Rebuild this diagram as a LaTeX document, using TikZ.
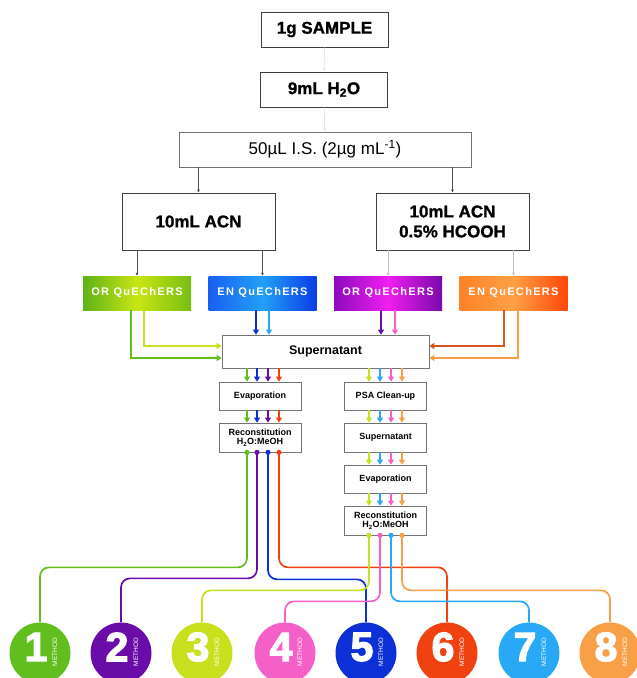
\documentclass[tikz,border=0pt]{standalone}
\usepackage{fontspec}
\setmainfont{Liberation Sans}
\newfontfamily\qfont[LetterSpace=12]{Liberation Sans}
\newfontfamily\heavyfont{Liberation Sans}[BoldFeatures={FakeBold=1.2}]
\newfontfamily\digitfont{Liberation Sans}[BoldFeatures={FakeBold=3}]
\usetikzlibrary{arrows.meta}

\definecolor{mgreen}{RGB}{98,190,30}
\definecolor{mpurple}{RGB}{106,12,168}
\definecolor{mlime}{RGB}{200,224,30}
\definecolor{mpink}{RGB}{245,95,200}
\definecolor{mblue}{RGB}{12,48,214}
\definecolor{mred}{RGB}{240,66,16}
\definecolor{mrust}{RGB}{212,88,30}
\definecolor{mlblue}{RGB}{40,168,245}
\definecolor{morange}{RGB}{248,160,72}

\begin{document}
\begin{tikzpicture}[x=1pt, y=-1pt,
	topbox/.style={draw=black!75, line width=0.9pt, fill=white, minimum width=127pt, minimum height=35pt, inner sep=0pt, font=\heavyfont\fontsize{17}{19}\selectfont\bfseries},
	acnbox/.style={topbox, minimum width=153pt, minimum height=57pt, align=center, font=\heavyfont\fontsize{17}{20}\selectfont\bfseries},
	qbox/.style={minimum width=108pt, minimum height=34pt, inner sep=0pt, text=white, font=\qfont\fontsize{11}{13}\selectfont\bfseries},
	stepbox/.style={draw=black!55, line width=0.7pt, fill=white, minimum width=82pt, minimum height=28pt, inner sep=0pt, align=center, font=\fontsize{9}{9.5}\selectfont\bfseries},
	grayarrow/.style={draw=#1, line width=0.6pt, -{Latex[length=3pt,width=3pt]}},
	carrow/.style={draw=#1, line width=1.7pt, -{Triangle[length=5pt,width=6pt]}},
	mline/.style={draw=#1, line width=1.7pt, rounded corners=9pt},
	mcirc/.style={circle, fill=#1, minimum size=61pt, inner sep=0pt},
	mdigit/.style={text=white, font=\digitfont\fontsize{41}{41}\selectfont\bfseries, inner sep=0pt},
	mword/.style={text=white, rotate=90, font=\fontsize{6.5}{7}\selectfont, inner sep=0pt}
]
	\clip (0,0) rectangle (637,678);

	% top of the workflow
	\node[topbox] (sample) at (324.5,29.5) {1g SAMPLE};
	\node[topbox] (water) at (324,89.5) {9mL H\textsubscript{2}O};
	\node[topbox, minimum width=292pt, draw=black!55, font=\fontsize{17}{19}\selectfont] (istd) at (325,149.5) {50µL I.S. (2µg mL\textsuperscript{-1})};
	\node[acnbox] (acn) at (198.5,221.5) {10mL ACN};
	\node[acnbox] (acnfa) at (452.5,221.5) {10mL ACN\\0.5\% HCOOH};

	\draw[grayarrow=black!12] (sample) -- (water);
	\draw[grayarrow=black!12] (water) -- (istd);
	\draw[grayarrow=black!70] (istd.south -| acn.north) -- (acn.north);
	\draw[grayarrow=black!70] (istd.south -| acnfa.north) -- (acnfa.north);

	% QuEChERS variants
	\node[qbox, left color={rgb,255:red,95;green,178;blue,25}, right color={rgb,255:red,120;green,190;blue,20}, middle color={rgb,255:red,200;green,230;blue,20}] (orq1) at (137,293) {OR QuEChERS};
	\node[qbox, left color={rgb,255:red,25;green,95;blue,240}, right color={rgb,255:red,10;green,60;blue,230}, middle color={rgb,255:red,35;green,160;blue,245}] (enq1) at (262.5,293) {EN QuEChERS};
	\node[qbox, left color={rgb,255:red,140;green,10;blue,190}, right color={rgb,255:red,120;green,10;blue,170}, middle color={rgb,255:red,240;green,30;blue,240}] (orq2) at (388,293) {OR QuEChERS};
	\node[qbox, left color={rgb,255:red,255;green,130;blue,40}, right color={rgb,255:red,255;green,70;blue,10}, middle color={rgb,255:red,255;green,160;blue,70}] (enq2) at (513.5,293) {EN QuEChERS};

	\draw[grayarrow=black!70] (acn.south -| orq1.north) -- (orq1.north);
	\draw[grayarrow=black!70] (acn.south -| enq1.north) -- (enq1.north);
	\draw[grayarrow=black!25] (acnfa.south -| orq2.north) -- (orq2.north);
	\draw[grayarrow=black!25] (acnfa.south -| enq2.north) -- (enq2.north);

	% clean-up steps
	\node[stepbox, minimum width=207pt, minimum height=33pt, font=\fontsize{12.5}{14}\selectfont\bfseries] (super) at (325.5,351.5) {Supernatant};
	\node[stepbox] (evap1) at (260,396) {Evaporation};
	\node[stepbox, minimum height=29pt] (recon1) at (260,437.5) {Reconstitution\\H\textsubscript{2}O:MeOH};
	\node[stepbox] (psa) at (385.5,396) {PSA Clean-up};
	\node[stepbox, minimum height=29pt] (super2) at (385.5,437.5) {Supernatant};
	\node[stepbox] (evap2) at (385.5,479) {Evaporation};
	\node[stepbox, minimum height=29pt] (recon2) at (385.5,520.5) {Reconstitution\\H\textsubscript{2}O:MeOH};

	\draw[carrow=mgreen] ([xshift=-6pt]orq1.south) |- ([yshift=-6.5pt]super.west);
	\draw[carrow=mlime] ([xshift=7pt]orq1.south) |- ([yshift=5.5pt]super.west);
	\draw[carrow=mblue] ([xshift=-6.5pt]enq1.south) -- ([xshift=-6.5pt]enq1.south |- super.north);
	\draw[carrow=mlblue] ([xshift=6.5pt]enq1.south) -- ([xshift=6.5pt]enq1.south |- super.north);
	\draw[carrow=mpurple] ([xshift=-7pt]orq2.south) -- ([xshift=-7pt]orq2.south |- super.north);
	\draw[carrow=mpink] ([xshift=7pt]orq2.south) -- ([xshift=7pt]orq2.south |- super.north);
	\draw[carrow=mrust] ([xshift=-9.5pt]enq2.south) |- ([yshift=5.5pt]super.east);
	\draw[carrow=morange] ([xshift=4.5pt]enq2.south) |- ([yshift=-6.5pt]super.east);

	\foreach \dx/\c in {-13/mgreen, -3/mblue, 8/mpurple, 19/mred} {
		\draw[carrow=\c] ([xshift=\dx pt]evap1.north |- super.south) -- ([xshift=\dx pt]evap1.north);
		\draw[carrow=\c] ([xshift=\dx pt]evap1.south) -- ([xshift=\dx pt]recon1.north);
	}
	\foreach \dx/\c in {-16.5/mlime, -5.5/mlblue, 5.5/mpink, 16.5/morange} {
		\draw[carrow=\c] ([xshift=\dx pt]psa.north |- super.south) -- ([xshift=\dx pt]psa.north);
		\draw[carrow=\c] ([xshift=\dx pt]psa.south) -- ([xshift=\dx pt]super2.north);
		\draw[carrow=\c] ([xshift=\dx pt]super2.south) -- ([xshift=\dx pt]evap2.north);
		\draw[carrow=\c] ([xshift=\dx pt]evap2.south) -- ([xshift=\dx pt]recon2.north);
	}

	% the eight methods
	\foreach \i/\x/\c in {1/40/mgreen, 2/121/mpurple, 3/202/mlime, 4/285/mpink, 5/366/mblue, 6/447/mred, 7/529/mlblue, 8/610/morange} {
		\node[mcirc=\c] (m\i) at (\x,653) {};
		\node[mdigit] (d\i) at ([xshift=-4pt, yshift=6pt]m\i.center) {\i};
		\node[mword] (w\i) at ([xshift=15pt, yshift=1pt]m\i.center) {METHOD};
	}

	\foreach \src/\dx/\dy/\m/\c in {recon1/-13/115/1/mgreen, recon1/-3/126/2/mpurple, recon1/8/127/5/mblue, recon1/19/115/6/mred,
			recon2/-16.5/55/3/mlime, recon2/-5.5/66/4/mpink, recon2/5.5/66/7/mlblue, recon2/16.5/55/8/morange} {
		\draw[mline=\c] ([xshift=\dx pt]\src.south) -- ++(0,\dy) -| (m\m.north);
		\fill[\c] ([xshift=\dx pt]\src.south) circle (2.6pt);
	}
\end{tikzpicture}
\end{document}
